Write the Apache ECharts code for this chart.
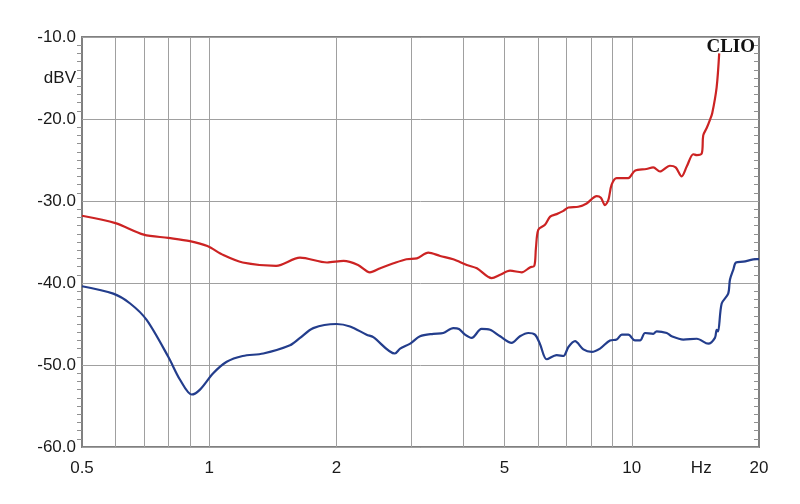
<!DOCTYPE html>
<html>
<head>
<meta charset="utf-8">
<script src="https://cdn.jsdelivr.net/npm/echarts@6/dist/echarts.min.js"></script>
<style>html,body{margin:0;padding:0;background:#fff}#c{width:800px;height:504px}</style>
</head>
<body>
<div id="c"></div>
<script>
// Frequencies (Hz) and levels (dBV)
const redFreq = [0.5,0.6,0.7,0.8,0.9,0.99,1.08,1.2,1.44,1.64,1.9,2.08,2.25,2.4,2.54,2.73,2.93,3.1,3.3,3.52,3.78,4.07,4.3,4.66,4.88,5.15,5.49,5.74,5.88,5.93,6.01,6.23,6.41,6.64,6.89,7.08,7.47,7.82,8.26,8.45,8.64,8.8,8.96,9.21,9.81,10.17,10.83,11.24,11.66,12.31,12.7,13.12,13.49,13.98,14.25,14.64,14.76,15.04,15.31,15.5,15.88,16.1];
const redLevel = [-31.8,-32.7,-34.1,-34.5,-34.9,-35.5,-36.6,-37.5,-37.9,-36.9,-37.5,-37.3,-37.8,-38.7,-38.2,-37.6,-37.1,-37.0,-36.3,-36.7,-37.1,-37.8,-38.2,-39.4,-39.0,-38.5,-38.7,-38.1,-37.9,-35.8,-33.5,-32.9,-31.9,-31.6,-31.2,-30.8,-30.7,-30.3,-29.4,-29.6,-30.5,-29.9,-28.0,-27.2,-27.2,-26.3,-26.1,-25.9,-26.4,-25.7,-25.9,-27.0,-25.8,-24.3,-24.4,-24.2,-22.0,-21.1,-20.1,-19.3,-16.1,-12.0];
const blueFreq = [0.5,0.593,0.65,0.711,0.8,0.853,0.909,0.951,1.022,1.1,1.2,1.343,1.553,1.64,1.763,2.0,2.154,2.358,2.445,2.75,2.83,2.99,3.154,3.39,3.58,3.78,3.9,4.03,4.18,4.41,4.62,4.88,5.195,5.437,5.69,5.9,6.06,6.29,6.64,6.89,7.08,7.34,7.68,8.04,8.41,8.88,9.21,9.47,9.81,10.17,10.46,10.75,11.24,11.45,12.1,12.43,13.24,14.25,15.17,15.73,15.88,16.0,16.32,16.91,17.07,17.38,17.64,18.36,19.75,20];
const blueLevel = [-40.4,-41.3,-42.5,-44.5,-49.0,-51.8,-53.6,-53.0,-51.0,-49.6,-48.9,-48.6,-47.6,-46.7,-45.5,-45.0,-45.3,-46.3,-46.6,-48.6,-48.0,-47.4,-46.5,-46.2,-46.1,-45.5,-45.6,-46.3,-46.7,-45.6,-45.7,-46.5,-47.3,-46.5,-46.1,-46.3,-47.4,-49.3,-48.8,-48.9,-47.8,-47.1,-48.1,-48.4,-48.0,-47.0,-46.9,-46.3,-46.3,-47.0,-47.0,-46.1,-46.2,-45.9,-46.1,-46.5,-46.9,-46.8,-47.4,-46.7,-45.7,-45.9,-42.5,-41.3,-39.6,-38.4,-37.5,-37.4,-37.1,-37.1];
const xGridValues = [0.6,0.7,0.8,0.9,1,2,3,4,5,6,7,8,9,10];
const xLabelValues = [0.5,1,2,5,10,14.6,20];
const yLabelValues = [-60,-50,-40,-30,-20,-15,-10];

const zip = (a,b) => a.map((v,i)=>[v,b[i]]);
const font = 'Liberation Sans, Arial, sans-serif';
const chart = echarts.init(document.getElementById('c'), null, {renderer:'canvas'});
chart.setOption({
  animation:false,
  backgroundColor:'#fff',
  grid:{left:82,top:37,right:41,bottom:57,show:true,borderColor:'#808080',borderWidth:2,backgroundColor:'transparent'},
  xAxis:{
    type:'log', logBase:10, min:0.5, max:20,
    axisLine:{show:false},
    axisTick:{show:false, customValues:xGridValues},
    splitLine:{show:true, lineStyle:{color:'#a0a0a0', width:1}},
    axisLabel:{show:true, customValues:xLabelValues, margin:13, color:'#1a1a1a', fontFamily:font, fontSize:17,
      formatter:v=> (Math.abs(v-14.6)<0.01 ? 'Hz' : String(v))}
  },
  yAxis:[{
    type:'value', min:-60, max:-10, interval:10, position:'left',
    axisLine:{show:false},
    axisTick:{show:false},
    minorTick:{show:true, splitNumber:10, length:5, lineStyle:{color:'#909090'}},
    splitLine:{show:true, lineStyle:{color:'#a0a0a0', width:1}},
    axisLabel:{customValues:yLabelValues, margin:6, color:'#1a1a1a', fontFamily:font, fontSize:17,
      formatter:v=> v===-15 ? 'dBV' : v.toFixed(1)}
  },{
    type:'value', min:-60, max:-10, interval:10, position:'right',
    axisLine:{show:false},
    axisTick:{show:false, inside:true},
    minorTick:{show:true, splitNumber:10, length:5, lineStyle:{color:'#909090'}},
    splitLine:{show:false},
    axisLabel:{show:false}
  }],
  graphic:[{type:'text', right:45, top:38, style:{text:'CLIO', font:'bold 19px "Liberation Serif", "Times New Roman", serif', fill:'#111'}}],
  series:[
    {type:'line', data:zip(redFreq, redLevel), showSymbol:false, smooth:0.3, lineStyle:{color:'#cc2323', width:2.2}, z:3},
    {type:'line', data:zip(blueFreq, blueLevel), showSymbol:false, smooth:0.3, lineStyle:{color:'#233d8c', width:2.2}, z:3}
  ]
});
</script>
</body>
</html>
